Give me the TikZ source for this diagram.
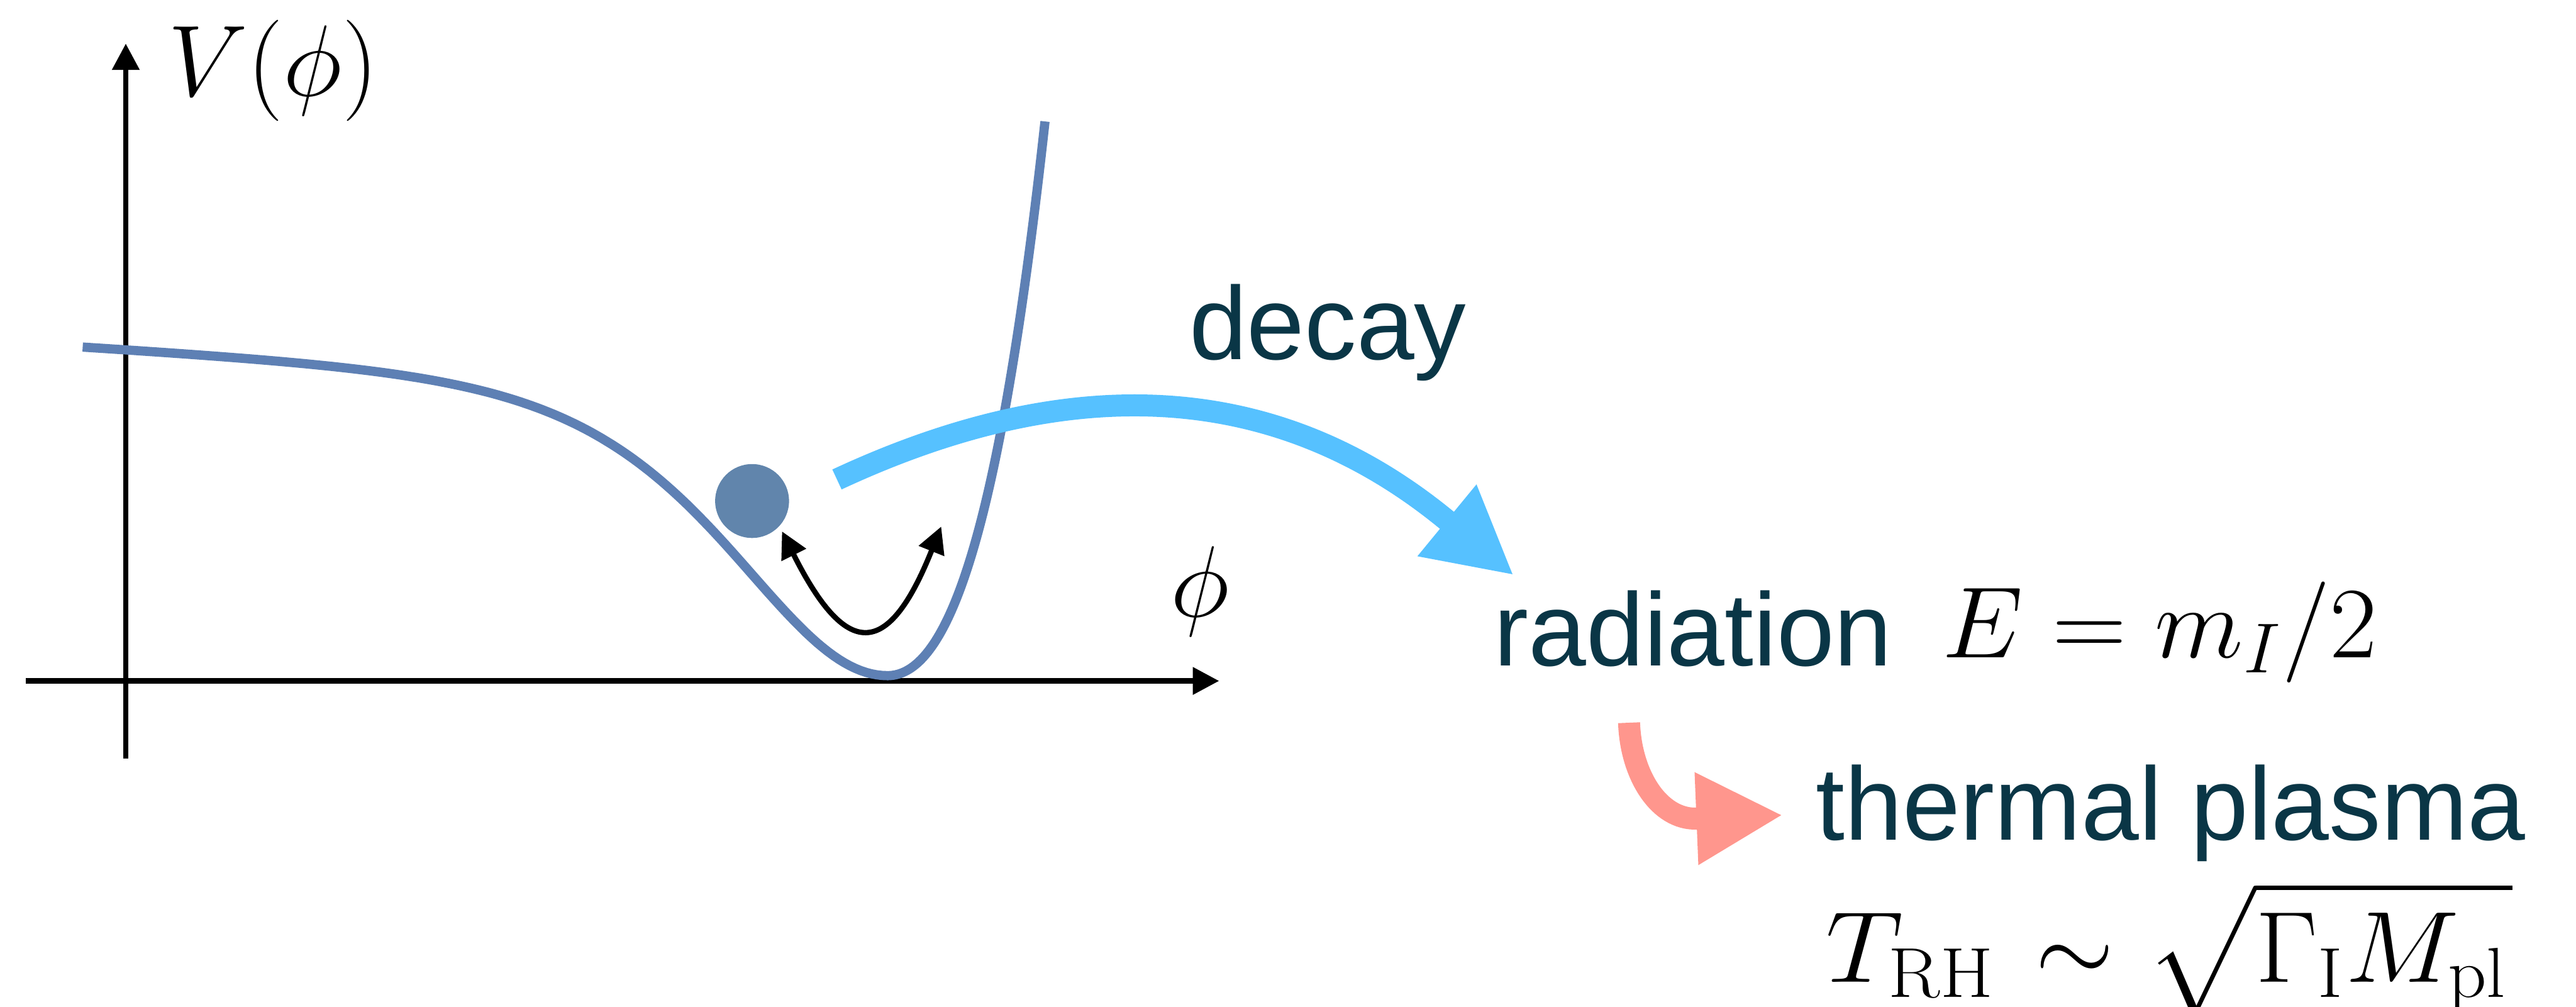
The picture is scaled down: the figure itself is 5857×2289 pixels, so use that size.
\RequirePackage{fix-cm}
\documentclass[tikz,border=0pt]{standalone}
\usepackage{exscale}
\usepackage{fontspec}
\usepackage{graphicx}
\newfontfamily\labelfont{Liberation Sans}
\usetikzlibrary{arrows.meta}
\definecolor{potblue}{RGB}{94,128,180}
\definecolor{ballblue}{RGB}{97,133,172}
\definecolor{decayblue}{RGB}{86,193,255}
\definecolor{thermpink}{RGB}{255,150,141}
\definecolor{labelteal}{RGB}{10,54,70}
\begin{document}
\begin{tikzpicture}[x=0.1pt,y=-0.1pt,
  axisline/.style={line width=1.25pt, -{Triangle[length=6pt,width=6pt]}},
  potline/.style={line width=2.1pt, draw=potblue, line join=round},
  osc/.style={line width=1.2pt, {Triangle[length=6pt,width=6pt]}-{Triangle[length=6pt,width=6pt]}},
  bigarrow/.style={line width=5pt, -{Triangle[length=19.7pt,width=19.6pt]}},
  mathlbl/.style={inner sep=0pt, anchor=base west, font=\fontsize{23}{28}\selectfont},
  txtlbl/.style={inner sep=0pt, anchor=base west, text=labelteal, font=\labelfont\fontsize{23.6}{28}\selectfont},
]
\useasboundingbox (0,0) rectangle (5857,2289);

% axes
\coordinate (ybot) at (286,1724);
\coordinate (ytop) at (286,99);
\coordinate (xleft) at (59,1548);
\coordinate (xright) at (2772,1548);
\draw[axisline] (ybot) -- (ytop);
\draw[axisline] (xleft) -- (xright);

% potential
\draw[potline] plot[domain=188:2018, samples=150]
  (\x,{1536-(637+0.0606*(2018-\x))*tanh(0.002206*(\x-2018))*tanh(0.002206*(\x-2018))})
  -- plot[domain=2018:2376, samples=80]
  (\x,{1536-2514*(exp(0.0015*(\x-2018))-1)*(exp(0.0015*(\x-2018))-1)});

% ball
\node[circle, fill=ballblue, minimum size=16.8pt, inner sep=0pt] (ball) at (1710,1139) {};

% oscillation arrow
\coordinate (oscL) at (1778,1208);
\coordinate (oscR) at (2140,1197);
\draw[osc] (oscL) .. controls (1924,1499) and (2019,1500) .. (oscR);

% labels
\node[mathlbl] (Vlbl) at (380,218) {$V(\phi)$};
\node[mathlbl] (philbl) at (2660,1402) {$\phi$};
\node[txtlbl] (decay) at (2702,817) {decay};
\node[txtlbl] (radiation) at (3395,1513) {radiation};
\node[mathlbl] (Eform) at (4415,1495) {\scalebox{1.02}[1]{$E=m_I/2$}};
\node[txtlbl] (thermal) at (4127,1909) {thermal plasma};
\node[mathlbl] (Tlhs) at (4150,2233) {\scalebox{1.075}[1]{$T_{\mathrm{RH}}$}};
\node[mathlbl, anchor=base] (Tsim) at (4718,2233) {$\sim$};
\node[mathlbl] (Trhs) at (4878,2233) {$\sqrt{\vrule height0.8em width0pt depth0pt\scalebox{1.07}[1]{$\Gamma_{\mathrm{I}}M_{\mathrm{pl}}$}\hspace{1pt}}$};

% decay arrow
\coordinate (bstart) at (1903,1090);
\coordinate (bbase) at (3290,1183);
\coordinate (btip) at (3442,1308);
\draw[bigarrow, color=decayblue] (bstart) .. controls (2392,862) and (2873,840) .. (bbase) -- (btip);

% thermalisation arrow
\coordinate (pstart) at (3704,1643);
\coordinate (pbase) at (3858,1861);
\coordinate (ptip) at (4054,1853);
\draw[bigarrow, color=thermpink] (pstart) .. controls (3708,1763) and (3773,1864) .. (pbase) -- (ptip);
\end{tikzpicture}
\end{document}
